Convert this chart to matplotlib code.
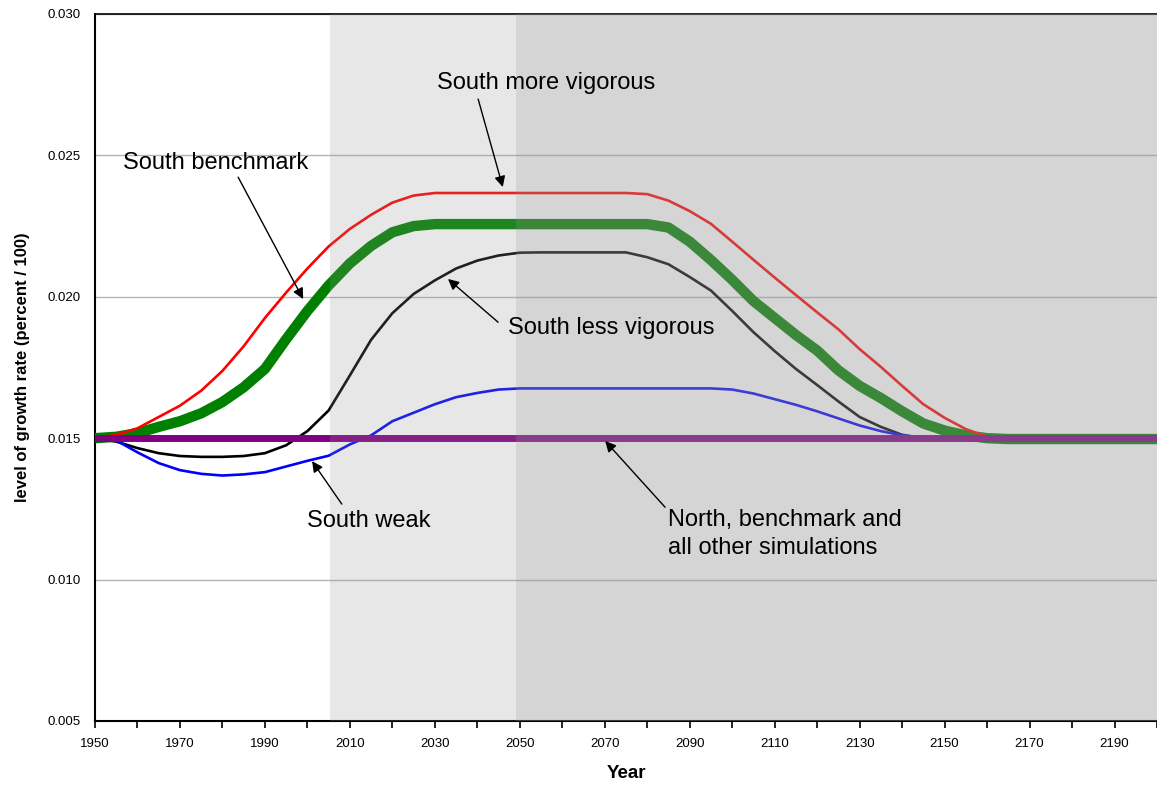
import matplotlib
matplotlib.use("Agg")
import matplotlib.pyplot as plt
import numpy as np

plt.rcParams['font.family'] = ['Liberation Sans', 'DejaVu Sans']

# 5-year samples, 1950 .. 2200
years = np.arange(1950, 2201, 5)

south_more_vigorous = [
    0.01500, 0.01512, 0.01535, 0.01575, 0.01615, 0.01668, 0.01738, 0.01825, 0.01925, 0.02015,
    0.02100, 0.02178, 0.02240, 0.02290, 0.02333, 0.02358, 0.02367, 0.02367, 0.02367, 0.02367,
    0.02367, 0.02367, 0.02367, 0.02367, 0.02367, 0.02367, 0.02363, 0.02340, 0.02303, 0.02258,
    0.02195, 0.02131, 0.02068, 0.02006, 0.01945, 0.01885, 0.01815, 0.01752, 0.01685, 0.01620,
    0.01572, 0.01532, 0.01505, 0.01500, 0.01500, 0.01500, 0.01500, 0.01500, 0.01500, 0.01500,
    0.01500,
]
south_benchmark = [
    0.01500, 0.01505, 0.01518, 0.01540, 0.01560, 0.01588, 0.01628, 0.01680, 0.01745, 0.01850,
    0.01950, 0.02040, 0.02118, 0.02180, 0.02228, 0.02250, 0.02257, 0.02257, 0.02257, 0.02257,
    0.02257, 0.02257, 0.02257, 0.02257, 0.02257, 0.02257, 0.02257, 0.02245, 0.02195, 0.02130,
    0.02060, 0.01985, 0.01925, 0.01865, 0.01810, 0.01740, 0.01685, 0.01642, 0.01595, 0.01552,
    0.01527, 0.01510, 0.01500, 0.01497, 0.01497, 0.01497, 0.01497, 0.01497, 0.01497, 0.01497,
    0.01497,
]
south_less_vigorous = [
    0.01500, 0.01488, 0.01465, 0.01447, 0.01437, 0.01434, 0.01434, 0.01437, 0.01447, 0.01475,
    0.01525, 0.01598, 0.01722, 0.01848, 0.01942, 0.02010, 0.02058, 0.02100, 0.02128, 0.02146,
    0.02156, 0.02157, 0.02157, 0.02157, 0.02157, 0.02157, 0.02140, 0.02115, 0.02070, 0.02022,
    0.01950, 0.01875, 0.01808, 0.01745, 0.01688, 0.01630, 0.01575, 0.01540, 0.01512, 0.01500,
    0.01500, 0.01500, 0.01500, 0.01500, 0.01500, 0.01500, 0.01500, 0.01500, 0.01500, 0.01500,
    0.01500,
]
south_weak = [
    0.01500, 0.01492, 0.01450, 0.01412, 0.01387, 0.01374, 0.01368, 0.01372, 0.01380, 0.01400,
    0.01420, 0.01438, 0.01478, 0.01510, 0.01560, 0.01590, 0.01620, 0.01645, 0.01660, 0.01672,
    0.01676, 0.01676, 0.01676, 0.01676, 0.01676, 0.01676, 0.01676, 0.01676, 0.01676, 0.01676,
    0.01672, 0.01658, 0.01638, 0.01618, 0.01595, 0.01570, 0.01545, 0.01525, 0.01510, 0.01502,
    0.01500, 0.01500, 0.01500, 0.01500, 0.01500, 0.01500, 0.01500, 0.01500, 0.01500, 0.01500,
    0.01500,
]
north_all = [0.01500] * len(years)

fig = plt.figure(figsize=(11.57, 7.86), dpi=100)
ax = fig.add_axes([0.0821, 0.0827, 0.9179, 0.8995])

ax.plot(years, south_benchmark, color='#008000', lw=7.5, solid_capstyle='butt', zorder=3)
ax.plot(years, north_all, color='#800080', lw=5, zorder=4)
ax.plot(years, south_more_vigorous, color='#ff0000', lw=1.9, zorder=3)
ax.plot(years, south_less_vigorous, color='#000000', lw=1.9, zorder=3)
ax.plot(years, south_weak, color='#0000ff', lw=1.9, zorder=3)

# shaded periods, drawn over the lines like the original
ax.axvspan(2005.3, 2049.2, color='#969696', alpha=0.22, lw=0, zorder=5)
ax.axvspan(2049.2, 2200, color='#969696', alpha=0.40, lw=0, zorder=5)

ax.set_xlim(1950, 2200)
ax.set_ylim(0.005, 0.030)
ax.set_yticks(np.arange(0.005, 0.0301, 0.005))
ax.set_yticklabels(['%.3f' % v for v in np.arange(0.005, 0.0301, 0.005)])
xt = np.arange(1950, 2201, 10)
ax.set_xticks(xt)
ax.set_xticklabels([str(y) if (y - 1950) % 20 == 0 else '' for y in xt])
ax.tick_params(axis='x', direction='out', length=5, width=1.2, labelsize=9.5, pad=7)
ax.tick_params(axis='y', length=0, labelsize=9.5, pad=10)
ax.grid(axis='y', color='#b4b4b4', lw=1)
ax.set_axisbelow(True)

ax.spines['right'].set_visible(False)
ax.spines['left'].set_linewidth(1.5)
ax.spines['bottom'].set_linewidth(1.5)
ax.spines['top'].set_linewidth(1.2)

ax.set_xlabel('Year', fontsize=13.5, fontweight='bold', labelpad=11)
ax.set_ylabel('level of growth rate (percent / 100)', fontsize=12, fontweight='bold', labelpad=13)

arrow = dict(arrowstyle='-|>', color='black', lw=1, mutation_scale=16, shrinkA=0, shrinkB=0)
ax.annotate('', xy=(2046.0, 0.02388), xytext=(2040.2, 0.02699), arrowprops=arrow, zorder=6)
ax.annotate('', xy=(1999.0, 0.01992), xytext=(1983.7, 0.02423), arrowprops=arrow, zorder=6)
ax.annotate('', xy=(2033.1, 0.02063), xytext=(2044.9, 0.01910), arrowprops=arrow, zorder=6)
ax.annotate('', xy=(2001.1, 0.01419), xytext=(2008.1, 0.01267), arrowprops=arrow, zorder=6)
ax.annotate('', xy=(2070.1, 0.01490), xytext=(2084.2, 0.01256), arrowprops=arrow, zorder=6)

fs = 17
ax.text(2056.2, 0.02756, 'South more vigorous', ha='center', va='center', fontsize=fs, zorder=6)
ax.text(1978.5, 0.02473, 'South benchmark', ha='center', va='center', fontsize=fs, zorder=6)
ax.text(2071.5, 0.01889, 'South less vigorous', ha='center', va='center', fontsize=fs, zorder=6)
ax.text(2014.5, 0.01207, 'South weak', ha='center', va='center', fontsize=fs, zorder=6)
ax.text(2084.8, 0.01160, 'North, benchmark and\nall other simulations', ha='left', va='center',
        fontsize=fs, linespacing=1.35, zorder=6)

fig.savefig('out.png', dpi=100)
